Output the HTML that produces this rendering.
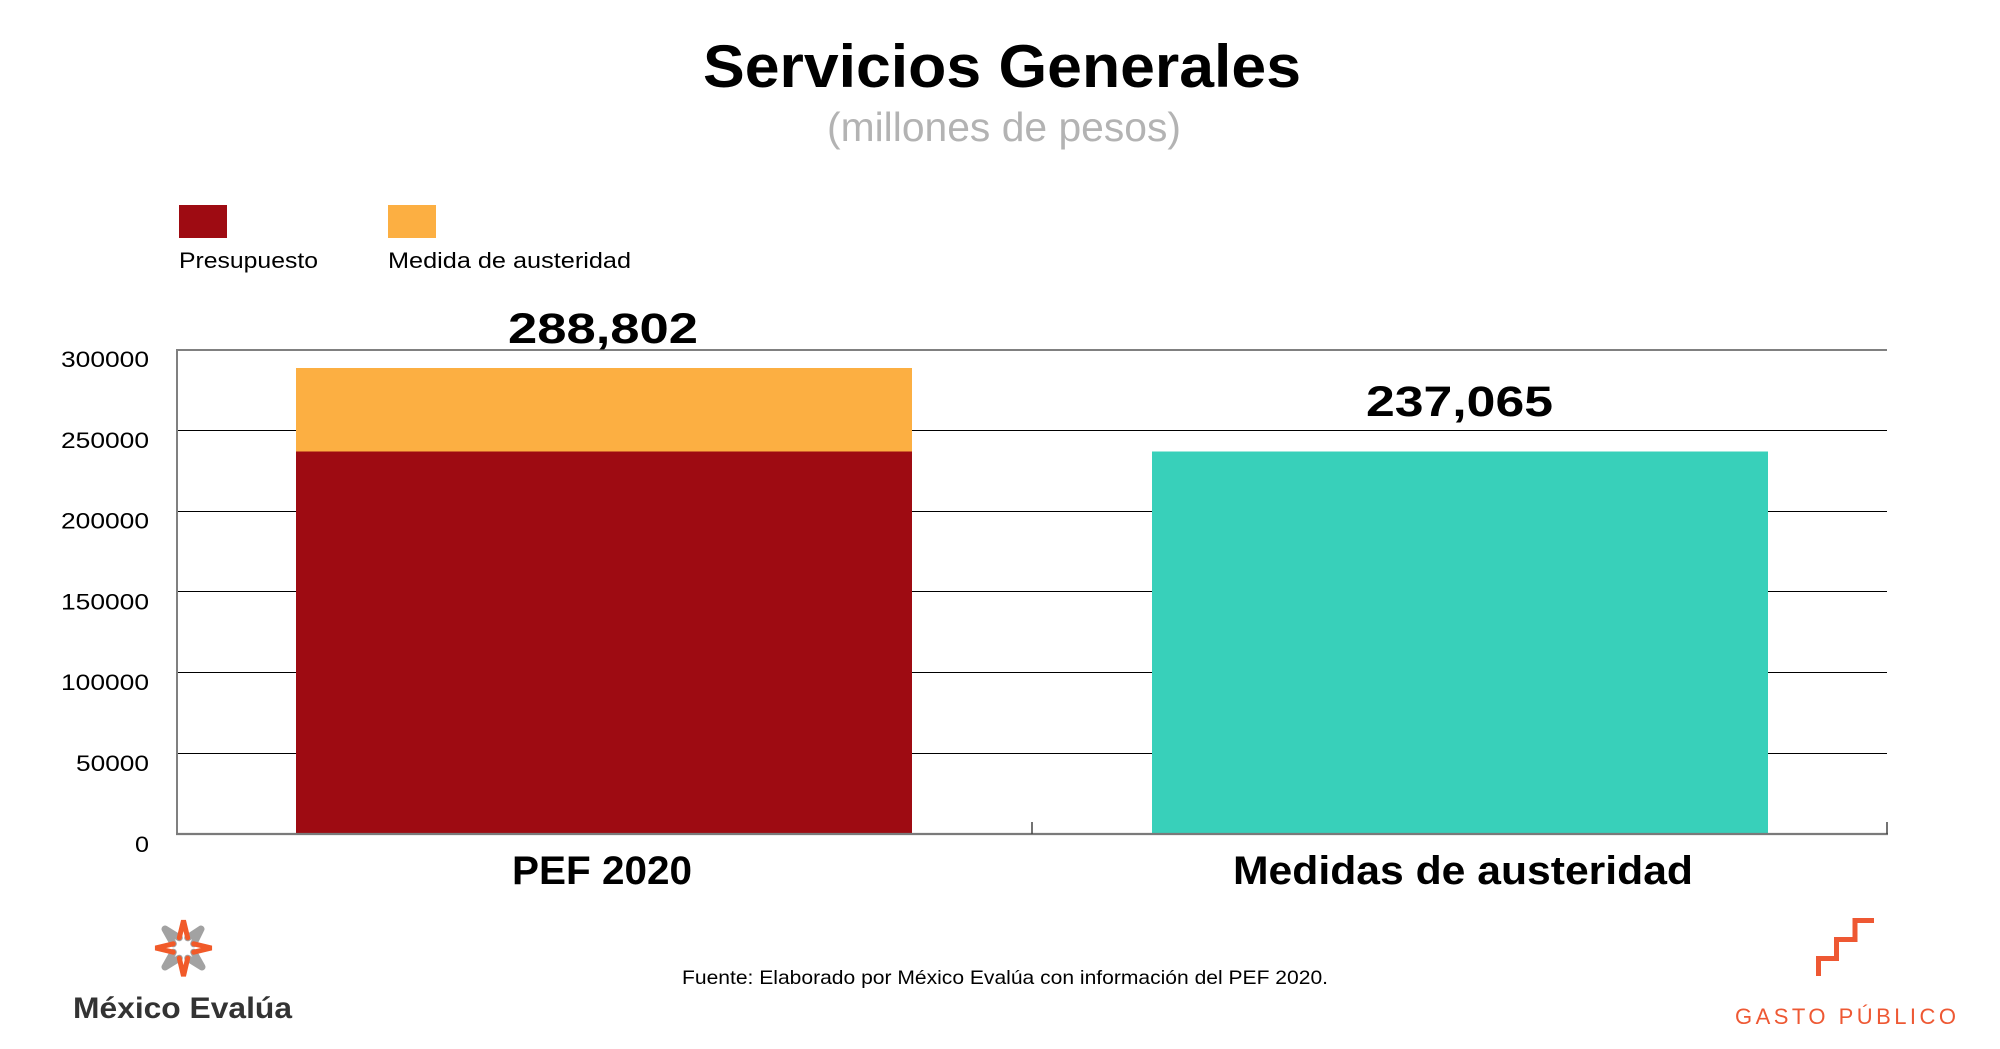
<!DOCTYPE html>
<html>
<head>
<meta charset="utf-8">
<style>
  html, body { margin: 0; padding: 0; background: #ffffff; }
  body { width: 2000px; height: 1049px; overflow: hidden; }
  svg { display: block; }
  text { font-family: "Liberation Sans", "DejaVu Sans", sans-serif; }
</style>
</head>
<body>
<svg width="2000" height="1049" viewBox="0 0 2000 1049" xmlns="http://www.w3.org/2000/svg">
  <rect x="0" y="0" width="2000" height="1049" fill="#ffffff"/>

  <!-- Title -->
  <text x="703" y="87" font-size="60" font-weight="bold" fill="#000" textLength="598" lengthAdjust="spacingAndGlyphs">Servicios Generales</text>
  <text x="827" y="141" font-size="41" fill="#b3b3b3" textLength="354" lengthAdjust="spacingAndGlyphs">(millones de pesos)</text>

  <!-- Legend -->
  <rect x="179" y="205" width="48" height="33" fill="#9e0b12"/>
  <rect x="388" y="205" width="48" height="33" fill="#fcaf42"/>
  <text x="179" y="268" font-size="22" fill="#000" textLength="139" lengthAdjust="spacingAndGlyphs">Presupuesto</text>
  <text x="388" y="268" font-size="22" fill="#000" textLength="243" lengthAdjust="spacingAndGlyphs">Medida de austeridad</text>

  <!-- Gridlines -->
  <g stroke="#000" stroke-width="1">
    <line x1="177" y1="430.5" x2="1887" y2="430.5"/>
    <line x1="177" y1="511.5" x2="1887" y2="511.5"/>
    <line x1="177" y1="591.5" x2="1887" y2="591.5"/>
    <line x1="177" y1="672.5" x2="1887" y2="672.5"/>
    <line x1="177" y1="753.5" x2="1887" y2="753.5"/>
  </g>
  <line x1="177" y1="350" x2="1887" y2="350" stroke="#808080" stroke-width="2"/>
  <line x1="177" y1="349" x2="177" y2="835" stroke="#808080" stroke-width="2"/>

  <!-- Bars -->
  <rect x="296" y="451.5" width="616" height="382.5" fill="#9e0b12"/>
  <rect x="296" y="368" width="616" height="83.5" fill="#fcaf42"/>
  <rect x="1152" y="451.5" width="616" height="382.5" fill="#38d0ba"/>

  <!-- Bottom axis and ticks -->
  <line x1="176" y1="834" x2="1888" y2="834" stroke="#7a7a7a" stroke-width="2.2"/>
  <line x1="1032" y1="822" x2="1032" y2="834" stroke="#444" stroke-width="1.5"/>
  <line x1="1887" y1="822" x2="1887" y2="834" stroke="#444" stroke-width="1.5"/>

  <!-- Y tick labels -->
  <g font-size="22" fill="#000" text-anchor="end">
    <text x="149" y="367" textLength="88" lengthAdjust="spacingAndGlyphs">300000</text>
    <text x="149" y="448" textLength="88" lengthAdjust="spacingAndGlyphs">250000</text>
    <text x="149" y="528.5" textLength="88" lengthAdjust="spacingAndGlyphs">200000</text>
    <text x="149" y="609.5" textLength="88" lengthAdjust="spacingAndGlyphs">150000</text>
    <text x="149" y="690" textLength="88" lengthAdjust="spacingAndGlyphs">100000</text>
    <text x="149" y="771" textLength="73" lengthAdjust="spacingAndGlyphs">50000</text>
    <text x="149" y="852" textLength="14" lengthAdjust="spacingAndGlyphs">0</text>
  </g>

  <!-- Value labels -->
  <text x="508" y="343" font-size="43" font-weight="bold" fill="#000" textLength="190" lengthAdjust="spacingAndGlyphs">288,802</text>
  <text x="1366" y="416" font-size="43" font-weight="bold" fill="#000" textLength="187" lengthAdjust="spacingAndGlyphs">237,065</text>

  <!-- X category labels -->
  <text x="512" y="884" font-size="40" font-weight="bold" fill="#000" textLength="180" lengthAdjust="spacingAndGlyphs">PEF 2020</text>
  <text x="1233" y="884" font-size="40" font-weight="bold" fill="#000" textLength="460" lengthAdjust="spacingAndGlyphs">Medidas de austeridad</text>

  <!-- Footer source -->
  <text x="682" y="984" font-size="19.5" fill="#000" textLength="646" lengthAdjust="spacingAndGlyphs">Fuente: Elaborado por México Evalúa con información del PEF 2020.</text>

  <!-- México Evalúa logo -->
  <g fill="none" stroke-linecap="round" stroke-linejoin="round">
    <g stroke="#a2a2a2" stroke-width="7">
      <path d="M187.7,937.8 L201,929 L193.7,943.8"/>
      <path d="M193.7,952.2 L202,967 L187.7,958.2"/>
      <path d="M179.3,958.2 L165,967 L173.3,952.2"/>
      <path d="M173.3,943.8 L165,929 L179.3,937.8"/>
    </g>
    <g stroke="#f15a29" stroke-width="5" stroke-linejoin="miter">
      <path d="M179.3,937.8 L183.5,920.5 L187.7,937.8"/>
      <path d="M193.7,943.8 L211.5,948 L193.7,952.2"/>
      <path d="M187.7,958.2 L183.5,976 L179.3,958.2"/>
      <path d="M173.3,952.2 L155.5,948 L173.3,943.8"/>
    </g>
  </g>
  <text x="73" y="1018" font-size="30" font-weight="bold" fill="#333333" textLength="219" lengthAdjust="spacingAndGlyphs">México Evalúa</text>

  <!-- Gasto Público logo -->
  <path d="M1818.5,976 V958.5 H1836.5 V939.5 H1855 V920.5 H1874" fill="none" stroke="#ee5833" stroke-width="5"/>
  <text x="1735" y="1024" font-size="22" fill="#ee5833" textLength="221" lengthAdjust="spacing">GASTO PÚBLICO</text>
</svg>
</body>
</html>
